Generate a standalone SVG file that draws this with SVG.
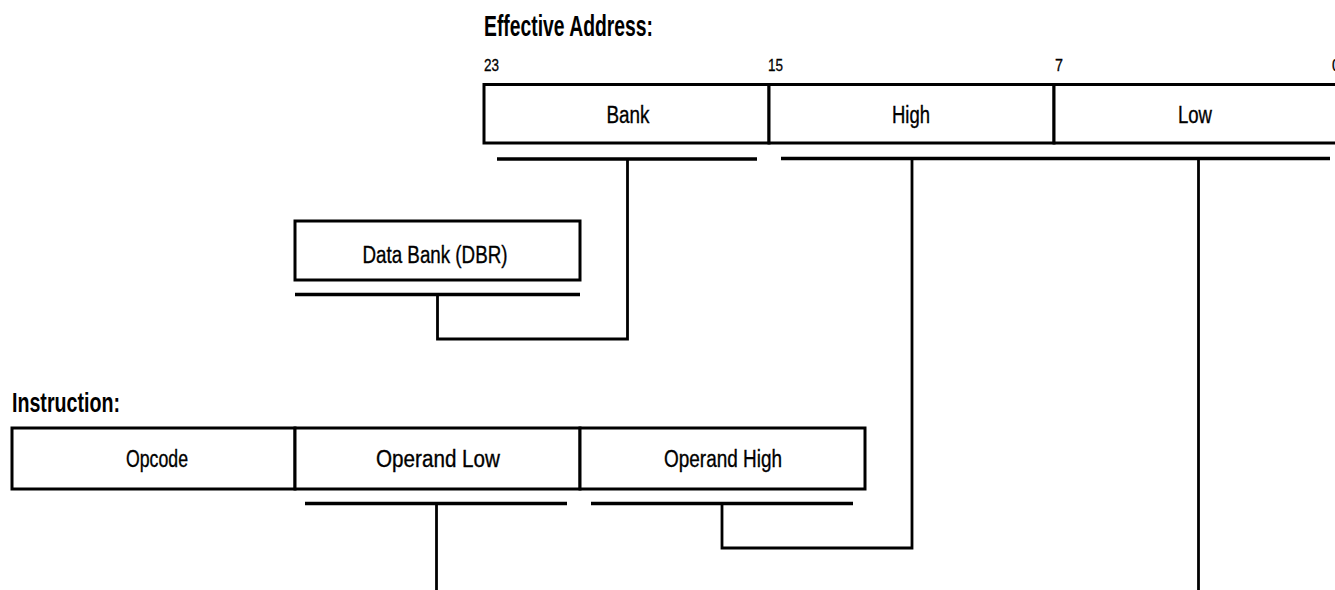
<svg xmlns="http://www.w3.org/2000/svg" width="1335" height="590" viewBox="0 0 1335 590">
  <style>
    .box { fill: #fff; stroke: #000; stroke-width: 3; }
    .bar { fill: none; stroke: #000; stroke-width: 3.5; stroke-linecap: butt; }
    .wire { fill: none; stroke: #000; stroke-width: 2.8; stroke-linejoin: miter; }
    .lbl { font-family: "Liberation Sans Narrow", "Liberation Sans", "DejaVu Sans Condensed", sans-serif; font-size: 23px; fill: #000; stroke: #000; stroke-width: 0.35; text-anchor: middle; }
    .bit { font-family: "Liberation Sans Narrow", "Liberation Sans", sans-serif; font-size: 17px; fill: #000; stroke: #000; stroke-width: 0.3; }
    .title { font-family: "Liberation Sans Narrow", "Liberation Sans", sans-serif; font-weight: bold; fill: #000; }
  </style>
  <rect width="1335" height="590" fill="#fff"/>

  <!-- headings -->
  <text class="title" x="484" y="36" font-size="29" textLength="169" lengthAdjust="spacingAndGlyphs">Effective Address:</text>
  <text class="title" x="12" y="412" font-size="28" textLength="108" lengthAdjust="spacingAndGlyphs">Instruction:</text>

  <!-- bit positions -->
  <g id="bit-numbers">
    <text class="bit" x="484" y="71" textLength="15" lengthAdjust="spacingAndGlyphs">23</text>
    <text class="bit" x="768" y="71" textLength="15" lengthAdjust="spacingAndGlyphs">15</text>
    <text class="bit" x="1055" y="71" textLength="8" lengthAdjust="spacingAndGlyphs">7</text>
    <text class="bit" x="1332" y="71" textLength="8" lengthAdjust="spacingAndGlyphs">0</text>
  </g>

  <!-- effective address fields -->
  <g id="ea-bank">
    <rect class="box" x="484" y="84.5" width="285" height="58.5"/>
    <text class="lbl" x="628" y="123" textLength="43" lengthAdjust="spacingAndGlyphs">Bank</text>
  </g>
  <g id="ea-high">
    <rect class="box" x="769" y="84.5" width="285" height="58.5"/>
    <text class="lbl" x="911" y="123" textLength="38" lengthAdjust="spacingAndGlyphs">High</text>
  </g>
  <g id="ea-low">
    <rect class="box" x="1054" y="84.5" width="290" height="58.5"/>
    <text class="lbl" x="1195" y="123" textLength="34" lengthAdjust="spacingAndGlyphs">Low</text>
  </g>

  <!-- data bank register -->
  <g id="dbr">
    <rect class="box" x="295" y="221" width="285" height="59"/>
    <text class="lbl" x="435" y="263" textLength="145" lengthAdjust="spacingAndGlyphs">Data Bank (DBR)</text>
  </g>

  <!-- instruction bytes -->
  <g id="instr-opcode">
    <rect class="box" x="12" y="428" width="283" height="61"/>
    <text class="lbl" x="157" y="467" textLength="62" lengthAdjust="spacingAndGlyphs">Opcode</text>
  </g>
  <g id="instr-operand-low">
    <rect class="box" x="295" y="428" width="285" height="61"/>
    <text class="lbl" x="438" y="467" textLength="124" lengthAdjust="spacingAndGlyphs">Operand Low</text>
  </g>
  <g id="instr-operand-high">
    <rect class="box" x="580" y="428" width="285" height="61"/>
    <text class="lbl" x="723" y="467" textLength="118" lengthAdjust="spacingAndGlyphs">Operand High</text>
  </g>

  <!-- connectors: brackets under each field and the routing between them -->
  <g id="connectors">
    <line class="bar" x1="497" y1="159" x2="757" y2="159"/>
    <line class="bar" x1="781" y1="158.5" x2="1330" y2="158.5"/>
    <line class="bar" x1="295" y1="294.5" x2="580" y2="294.5"/>
    <line class="bar" x1="305" y1="503.5" x2="567" y2="503.5"/>
    <line class="bar" x1="591" y1="503.5" x2="853" y2="503.5"/>

    <!-- bank <- DBR -->
    <polyline class="wire" points="627.5,159 627.5,339 437.5,339 437.5,294.5"/>
    <!-- high <- operand high -->
    <polyline class="wire" points="912,158.5 912,548 722,548 722,503.5"/>
    <!-- low <- operand low -->
    <line class="wire" x1="1198.5" y1="158.5" x2="1198.5" y2="590"/>
    <line class="wire" x1="436.5" y1="503.5" x2="436.5" y2="590"/>
  </g>
</svg>
